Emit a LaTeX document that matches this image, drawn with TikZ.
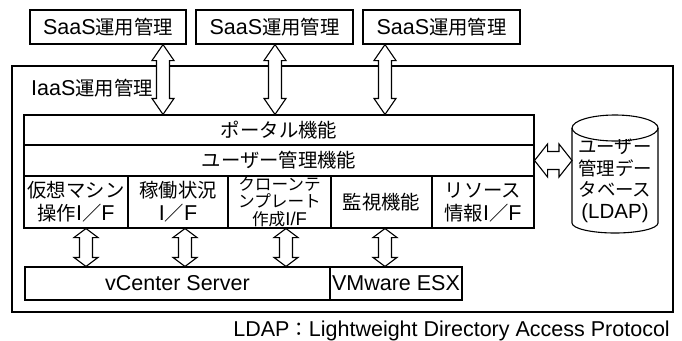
\documentclass[tikz,border=0pt]{standalone}
\usepackage{fontspec}
\setmainfont{Liberation Sans}
\newfontfamily\jp{Noto Sans CJK JP}[Scale=0.9]
\usetikzlibrary{calc}
\newcommand\J[1]{{\jp #1}}
% vertical double arrow: #1 top end, #2 bottom end, #3 head length, #4 head half width, #5 shaft half width
\newcommand\vdbl[5]{%
  \draw[dblarrow] let \p1=(#1), \p2=(#2) in
    (\x1,\y1) -- (\x1+#4,\y1-#3) -- (\x1+#5,\y1-#3) -- (\x1+#5,\y2+#3) -- (\x1+#4,\y2+#3)
    -- (\x1,\y2) -- (\x1-#4,\y2+#3) -- (\x1-#5,\y2+#3) -- (\x1-#5,\y1-#3) -- (\x1-#4,\y1-#3) -- cycle;}
% horizontal double arrow: #1 left end, #2 right end
\newcommand\hdbl[5]{%
  \draw[dblarrow] let \p1=(#1), \p2=(#2) in
    (\x1,\y1) -- (\x1+#3,\y1+#4) -- (\x1+#3,\y1+#5) -- (\x2-#3,\y1+#5) -- (\x2-#3,\y1+#4)
    -- (\x2,\y1) -- (\x2-#3,\y1-#4) -- (\x2-#3,\y1-#5) -- (\x1+#3,\y1-#5) -- (\x1+#3,\y1-#4) -- cycle;}
\tikzset{
  base/.style={font=\fontsize{21.5}{23}\selectfont},
  wh/.style 2 args={minimum width=#1pt, minimum height=#2pt},
  box/.style={draw, line width=1.1pt, inner sep=0pt, align=center, base},
  dblarrow/.style={draw, line width=1.1pt, fill=white, line join=miter},
  outline/.style={line width=1.1pt},
}
\begin{document}
\begin{tikzpicture}[x=1pt,y=-1pt]
\useasboundingbox (0,0) rectangle (682,340);
% IaaS frame and its label
\node[box, wh={661}{246}] (iaas) at (342.5,189) {};
\node[base, anchor=west, inner sep=0pt] (iaaslbl) at (31,88) {IaaS\J{運用管理}};
% SaaS management boxes
\node[box, wh={156}{34}] (s1) at (108,27) {SaaS\J{運用管理}};
\node[box, wh={157}{34}] (s2) at (274.5,27) {SaaS\J{運用管理}};
\node[box, wh={157}{34}] (s3) at (441.5,27) {SaaS\J{運用管理}};
% portal and user management layers
\node[box, wh={510}{30}] (portal) at (279,130) {\J{ポータル機能}};
\node[box, wh={510}{31}] (user) at (279,160.5) {\J{ユーザー管理機能}};
% interface cells
\node[box, wh={104}{52}] (c1) at (76,202) {\J{仮想マシン}\\\J{操作}I\J{／}F};
\node[box, wh={100}{52}] (c2) at (178,202) {\J{稼働状況}\\I\J{／}F};
\node[box, wh={103}{52}, font=\fontsize{18.5}{17.5}\selectfont] (c3) at (279.5,202) {\J{クローンテ}\\\J{ンプレート}\\\J{作成}I/F};
\node[box, wh={101}{52}] (c4) at (381.5,202) {\J{監視機能}};
\node[box, wh={102}{52}] (c5) at (483,202) {\J{リソース}\\\J{情報}I\J{／}F};
% virtualization layer
\node[box, wh={305}{33}] (vc) at (177.5,283.5) {vCenter Server};
\node[box, wh={132}{33}] (esx) at (396,283.5) {VMware ESX};
% user database cylinder
\draw[outline, fill=white] (572,128) -- (572,223) arc[start angle=180, end angle=0, x radius=43, y radius=10] -- (658,128);
\draw[outline] (615,128) ellipse[x radius=43, y radius=13];
\node[align=center, inner sep=0pt, font=\fontsize{20.5}{21.5}\selectfont] (db) at (615,181) {\J{ユーザー}\\\J{管理デー}\\\J{タベース}\\(LDAP)};
\coordinate (dbw) at (572,160.5);
% arrow positions
\coordinate (ax1) at (163,0);
\coordinate (ax2) at (275,0);
\coordinate (ax3) at (385,0);
\coordinate (bx1) at (86,0);
\coordinate (bx2) at (185,0);
\coordinate (bx3) at (286,0);
\coordinate (bx4) at (385,0);
% SaaS <-> portal
\vdbl{ax1 |- s1.south}{ax1 |- portal.north}{16pt}{11pt}{6.5pt}
\vdbl{ax2 |- s2.south}{ax2 |- portal.north}{16pt}{11pt}{6.5pt}
\vdbl{ax3 |- s3.south}{ax3 |- portal.north}{16pt}{11pt}{6.5pt}
% interfaces <-> vCenter / ESX
\vdbl{bx1 |- c1.south}{bx1 |- vc.north}{9pt}{12pt}{6.5pt}
\vdbl{bx2 |- c2.south}{bx2 |- vc.north}{9pt}{12pt}{6.5pt}
\vdbl{bx3 |- c3.south}{bx3 |- vc.north}{9pt}{12pt}{6.5pt}
\vdbl{bx4 |- c4.south}{bx4 |- esx.north}{9pt}{12pt}{6.5pt}
% user management <-> database
\hdbl{user.east}{dbw}{13pt}{16.5pt}{9pt}
% footnote
\node[base, anchor=base east, inner sep=0pt] (note) at (670,336) {LDAP\J{：}Lightweight Directory Access Protocol};
\end{tikzpicture}
\end{document}
